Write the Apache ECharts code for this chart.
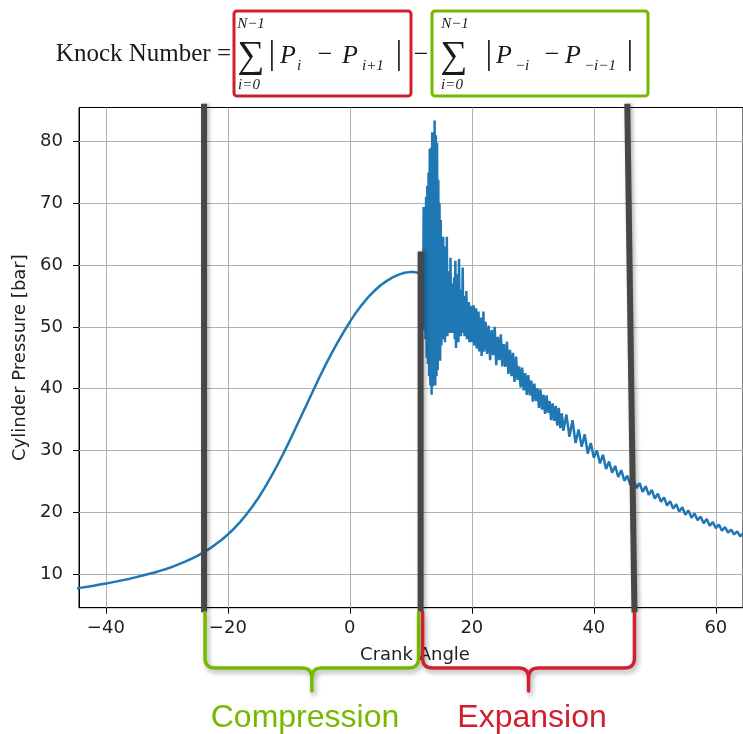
<!DOCTYPE html>
<html><head><meta charset="utf-8">
<script src="https://cdn.jsdelivr.net/npm/echarts@6/dist/echarts.min.js"></script>
<style>html,body{margin:0;padding:0;background:#fff}#c{width:743px;height:734px}</style>
</head><body><div id="c"></div>
<script>
// ---------- data ----------
const xTicks = [-40, -20, 0, 20, 40, 60];
const yTicks = [10, 20, 30, 40, 50, 60, 70, 80];

// compression (smooth) part
const angleA = [-45,-44,-43,-42,-41,-40,-39,-38,-37,-36,-35,-34,-33,-32,-31,-30,-29,-28,-27,-26,-25,-24,-23,-22,-21,-20,-19,-18,-17,-16,-15,-14,-13,-12,-11,-10,-9,-8,-7,-6,-5,-4,-3,-2,-1,0,1,2,3,4,5,6,7,8,9,10,11,11.5];
const pressureA = [7.6,7.8,7.95,8.1,8.3,8.45,8.65,8.85,9.05,9.25,9.5,9.75,10.0,10.25,10.55,10.85,11.2,11.6,12.0,12.45,12.95,13.5,14.1,14.8,15.55,16.4,17.35,18.4,19.6,20.9,22.3,23.9,25.6,27.4,29.3,31.3,33.4,35.5,37.6,39.7,41.8,43.8,45.7,47.5,49.2,50.8,52.3,53.6,54.8,55.8,56.7,57.4,58.0,58.45,58.75,58.9,58.8,58.6];

// knock onset (dense ringing), 0.1 deg samples
const angleB = [11.9,12.0,12.1,12.2,12.3,12.4,12.5,12.6,12.7,12.8,12.9,13.0,13.1,13.2,13.3,13.4,13.5,13.6,13.7,13.8,13.9,14.0,14.1,14.2,14.3,14.4,14.5,14.6,14.7,14.8,14.9,15.0,15.1,15.2,15.3,15.4,15.5,15.6,15.7,15.8,15.9,16.0,16.1,16.2,16.3,16.4,16.5,16.6,16.7,16.8,16.9,17.0,17.1,17.2,17.3,17.4,17.5,17.6,17.7,17.8,17.9,18.0,18.1,18.2,18.3,18.4,18.5,18.6,18.7,18.8,18.9,19.0,19.1,19.2,19.3,19.4,19.5,19.6,19.7,19.8,19.9,20.0,20.1,20.2,20.3,20.4,20.5,20.6,20.7,20.8,20.9,21.0,21.1,21.2,21.3,21.4,21.5,21.6,21.7,21.8,21.9,22.0];
const pressureB = [60.5,52,69.4,49.5,66,48,71,45,72.8,44,75,42,78.8,40.5,79,39.0,81.5,40.4,80,41,83.4,40.5,81,42,79.8,43,73.8,45.8,70,44.5,67.3,47,64,48,64.6,50.5,62,47.5,63,49,64.6,48.5,59,50,58,49,61.2,50.5,57,49,56.5,51,58,48,60.7,46.6,57,49.5,58.5,47.5,61.0,50,55.5,48.5,56,50.5,59.6,49,55,48.5,54.5,50,55.8,48,53.5,49.5,54,47.5,53,49,53.4,47.5,52,48.5,53.5,47,51.5,48,53,46.5,51,47.5,52.5,46,50.5,47.5,51.5,45.3,50,46.5,52.5,46];

// decaying ringing, 0.25 deg samples
const angleC = [22.25,22.5,22.75,23,23.25,23.5,23.75,24,24.25,24.5,24.75,25,25.25,25.5,25.75,26,26.25,26.5,26.75,27,27.25,27.5,27.75,28,28.25,28.5,28.75,29,29.25,29.5,29.75,30,30.25,30.5,30.75,31,31.25,31.5,31.75,32,32.25,32.5,32.75,33,33.25,33.5,33.75,34,34.25,34.5,34.75,35];
const pressureC = [50.8,45.6,50.2,44.6,49.5,45.4,50.0,43.8,48.4,44.6,48.8,43.6,47.2,43.5,47.6,42.4,46.3,42.0,45.8,41.1,45.2,41.4,43.6,40.2,43.4,39.7,42.5,39.0,42.2,38.9,41.3,37.9,40.8,38.0,40.1,36.9,39.9,36.6,39.0,35.9,38.9,36.1,38.0,34.9,37.6,34.8,37.2,34.0,36.9,33.6,36.0,33.2];

// late expansion, 0.5 deg samples
const angleD = [35.5,36,36.5,37,37.5,38,38.5,39,39.5,40,40.5,41,41.5,42,42.5,43,43.5,44,44.5,45,45.5,46,46.5,47,47.5,48,48.5,49,49.5,50,50.5,51,51.5,52,52.5,53,53.5,54,54.5,55,55.5,56,56.5,57,57.5,58,58.5,59,59.5,60,60.5,61,61.5,62,62.5,63,63.5,64,64.5,65,65.5];
const pressureD = [35.8,32.2,34.9,31.2,33.4,30.6,32.6,29.5,31.2,28.8,30.0,27.9,29.3,27.0,28.2,26.4,27.5,25.7,26.8,25.1,25.9,24.4,25.3,23.9,24.7,23.3,24.2,22.8,23.6,22.2,23.0,21.7,22.4,21.1,21.8,20.6,21.3,20.1,20.8,19.6,20.3,19.1,19.8,18.7,19.3,18.2,18.9,17.8,18.4,17.4,18.0,17.0,17.6,16.7,17.2,16.4,16.9,16.1,16.6,15.9,16.3];

const angles = angleA.concat(angleB, angleC, angleD);
const pressures = pressureA.concat(pressureB, pressureC, pressureD);
const seriesData = angles.map((a, i) => [a, pressures[i]]);

// annotation divider lines (crank angle, pressure) top/bottom
const dividers = [
  { top: [-23.9, 86.1], bottom: [-23.9, 3.8] },
  { top: [11.6, 62.2], bottom: [11.6, 3.8] },
  { top: [45.48, 86.1], bottom: [46.66, 3.8] }
];

// ---------- chart ----------
const chart = echarts.init(document.getElementById('c'), null, { renderer: 'canvas' });
const tickFont = { fontSize: 18, fontFamily: 'DejaVu Sans', color: '#222' };
const minusFmt = v => (v < 0 ? '\u2212' + (-v) : String(v));

const option = {
  animation: false,
  backgroundColor: '#fff',
  grid: { left: 79, top: 107.5, right: 0, bottom: 126.3, show: true, borderColor: '#000', borderWidth: 1, backgroundColor: 'transparent' },
  xAxis: {
    type: 'value', min: -44.4, max: 64.45,
    axisLine: { show: true, onZero: false, lineStyle: { color: '#000', width: 1 } },
    axisTick: { show: true, customValues: xTicks, length: 6, lineStyle: { color: '#000', width: 1 } },
    axisLabel: Object.assign({ customValues: xTicks, formatter: minusFmt, margin: 12 }, tickFont),
    splitLine: { show: false },
    name: 'Crank Angle', nameLocation: 'middle', nameGap: 39,
    nameTextStyle: Object.assign({ padding: [0, 0, 0, 8] }, tickFont)
  },
  yAxis: {
    type: 'value', min: 4.55, max: 85.5,
    axisLine: { show: true, onZero: false, lineStyle: { color: '#000', width: 1 } },
    axisTick: { show: true, customValues: yTicks, length: 6, lineStyle: { color: '#000', width: 1 } },
    axisLabel: Object.assign({ customValues: yTicks, formatter: minusFmt, margin: 16 }, tickFont),
    splitLine: { show: false },
    name: 'Cylinder Pressure [bar]', nameLocation: 'middle', nameGap: 48, nameRotate: 90,
    nameTextStyle: tickFont
  },
  series: [{
    type: 'line',
    data: seriesData,
    showSymbol: false,
    symbol: 'none',
    z: 3,
    lineStyle: { color: '#1f77b4', width: 2.5 },
    markLine: {
      z: 1,
      silent: true,
      symbol: ['none', 'none'],
      label: { show: false },
      emphasis: { disabled: true },
      lineStyle: { color: '#b0b0b0', width: 1, type: 'solid' },
      data: xTicks.map(v => ({ xAxis: v })).concat(yTicks.map(v => ({ yAxis: v })))
    }
  }]
};
chart.setOption(option);

// ---------- annotations ----------
function quad(p0, c, p1, n) {
  const pts = [];
  for (let k = 0; k <= n; k++) {
    const t = k / n, u = 1 - t;
    pts.push([u * u * p0[0] + 2 * u * t * c[0] + t * t * p1[0], u * u * p0[1] + 2 * u * t * c[1] + t * t * p1[1]]);
  }
  return pts;
}
function bracePoints(L, R, T, B, tip, r) {
  const M = (L + R) / 2;
  let pts = [[L, T]];
  pts = pts.concat(quad([L, B - r], [L, B], [L + r, B], 8));
  pts = pts.concat(quad([M - r, B], [M, B], [M, B + r], 8));
  pts.push([M, tip]);
  pts.push([M, B + r]);
  pts = pts.concat(quad([M, B + r], [M, B], [M + r, B], 8));
  pts = pts.concat(quad([R - r, B], [R, B], [R, B - r], 8));
  pts.push([R, T]);
  return pts;
}
function txt(text, x, y, size, italic, align, color, family) {
  return {
    type: 'text', z: 100, x: x, y: y,
    style: {
      text: text,
      font: (italic ? 'italic ' : '') + size + 'px ' + (family || '"Liberation Serif", "DejaVu Serif", serif'),
      fill: color || '#1a1a1a',
      textAlign: align || 'left',
      textVerticalAlign: 'middle'
    }
  };
}

function buildAnnotations() {
  const px = (p) => chart.convertToPixel({ gridIndex: 0 }, p);
  const g = [];
  const dp = dividers.map(d => ({ t: px(d.top), b: px(d.bottom) }));
  dp.forEach(d => g.push({
    type: 'line', z: 90,
    shape: { x1: d.t[0], y1: d.t[1], x2: d.b[0], y2: d.b[1] },
    style: { stroke: '#474747', lineWidth: 6, shadowBlur: 4, shadowColor: 'rgba(0,0,0,0.3)', shadowOffsetX: 2 }
  }));
  const green = '#76b900', red = '#d21f2f';
  const T = dp[0].b[1], B = 668, tip = 691, r = 10;
  const braceStyle = (c) => ({ stroke: c, fill: null, lineWidth: 3.5, lineJoin: 'round', lineCap: 'round', shadowBlur: 5, shadowColor: 'rgba(0,0,0,0.35)', shadowOffsetX: 2, shadowOffsetY: 3 });
  g.push({ type: 'polyline', z: 95, shape: { points: bracePoints(dp[0].b[0] + 1, dp[1].b[0] - 2, T, B, tip, r) }, style: braceStyle(green) });
  g.push({ type: 'polyline', z: 95, shape: { points: bracePoints(dp[1].b[0] + 2, dp[2].b[0], T, B, tip, r) }, style: braceStyle(red) });
  g.push(txt('Compression', 305, 718, 32, false, 'center', green, '"Liberation Sans", Arial, sans-serif'));
  g.push(txt('Expansion', 532, 718, 32, false, 'center', red, '"Liberation Sans", Arial, sans-serif'));

  // formula boxes
  g.push({ type: 'rect', z: 100, shape: { x: 234, y: 11, width: 177, height: 85, r: 3 }, style: { fill: null, stroke: red, lineWidth: 3 } });
  g.push({ type: 'rect', z: 100, shape: { x: 432, y: 11, width: 216, height: 85, r: 3 }, style: { fill: null, stroke: green, lineWidth: 3 } });

  // formula
  g.push(txt('Knock Number =', 231, 54, 25, false, 'right'));
  g.push(txt('\u2211', 251, 57, 38, false, 'center'));
  g.push(txt('N\u22121', 251, 24, 15, true, 'center'));
  g.push(txt('i=0', 249, 85, 15, true, 'center'));
  g.push(txt('|', 272, 55, 34, false, 'center'));
  g.push(txt('P', 280, 56, 26, true, 'left'));
  g.push(txt('i', 297, 66, 15, true, 'left'));
  g.push(txt('\u2212', 325, 55, 26, false, 'center'));
  g.push(txt('P', 342, 56, 26, true, 'left'));
  g.push(txt('i+1', 362, 66, 15, true, 'left'));
  g.push(txt('|', 399, 55, 34, false, 'center'));
  g.push(txt('\u2212', 421, 55, 26, false, 'center'));
  g.push(txt('\u2211', 454, 57, 38, false, 'center'));
  g.push(txt('N\u22121', 455, 24, 15, true, 'center'));
  g.push(txt('i=0', 452, 85, 15, true, 'center'));
  g.push(txt('|', 489, 55, 34, false, 'center'));
  g.push(txt('P', 496, 56, 26, true, 'left'));
  g.push(txt('\u2212i', 515, 66, 15, true, 'left'));
  g.push(txt('\u2212', 552, 55, 26, false, 'center'));
  g.push(txt('P', 565, 56, 26, true, 'left'));
  g.push(txt('\u2212i\u22121', 584, 66, 15, true, 'left'));
  g.push(txt('|', 630, 55, 34, false, 'center'));
  return g;
}
chart.setOption({ graphic: buildAnnotations() });
</script>
</body></html>
